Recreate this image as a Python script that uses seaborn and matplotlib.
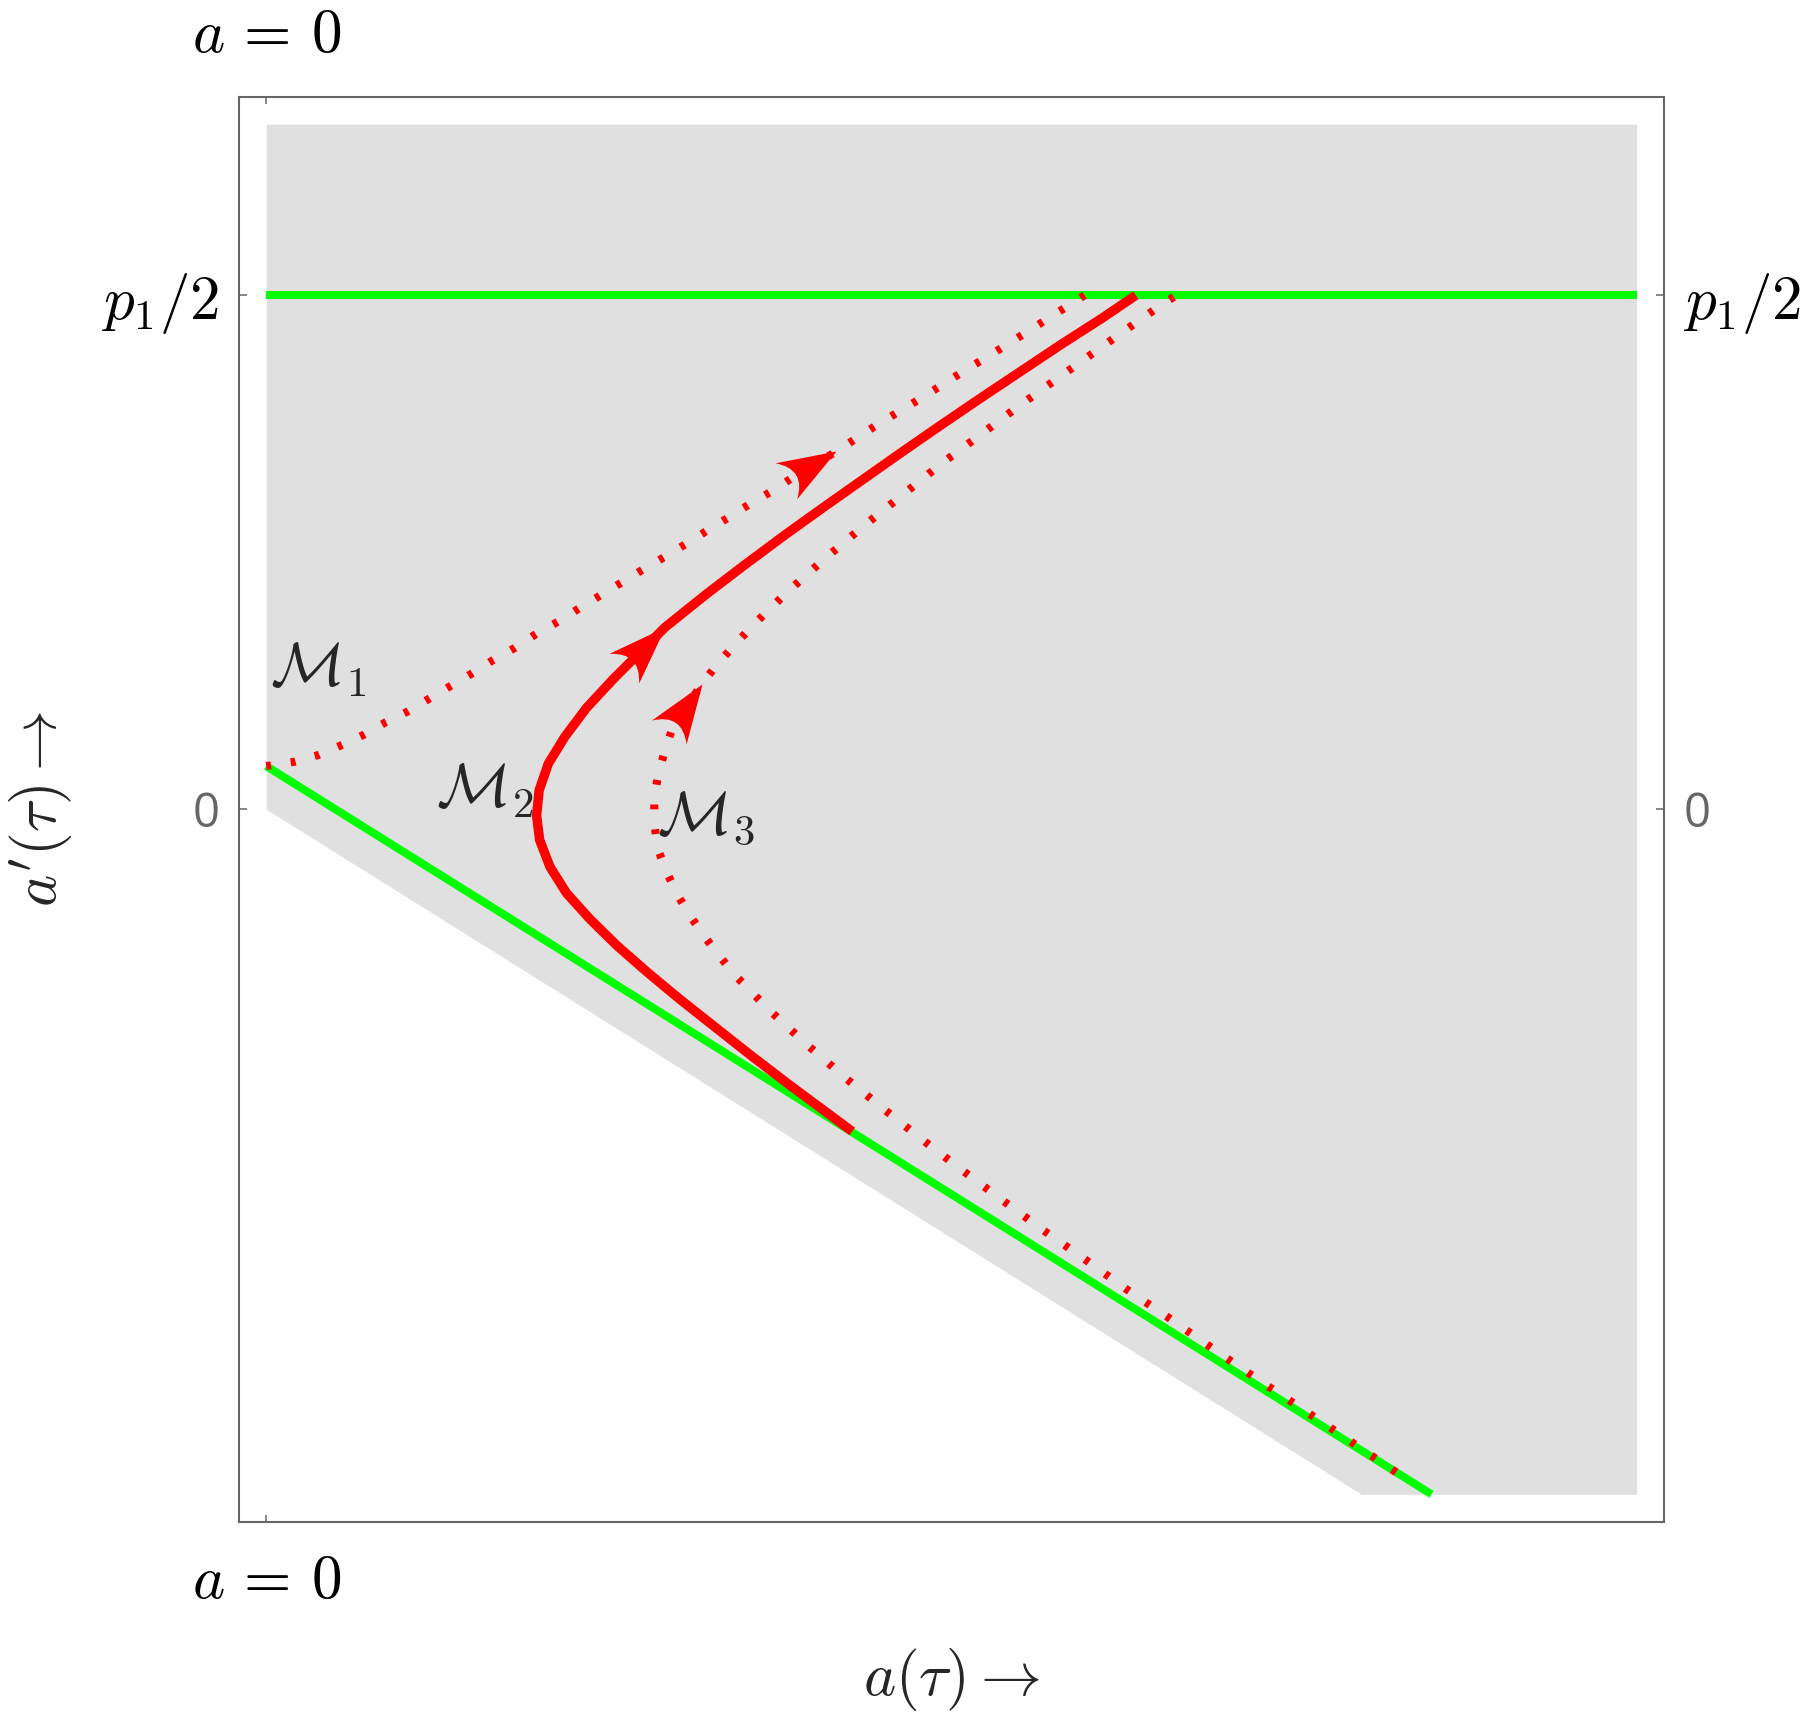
import numpy as np
import matplotlib
matplotlib.use("Agg")
import matplotlib.pyplot as plt
from matplotlib.markers import MarkerStyle
from matplotlib.path import Path
from matplotlib.transforms import Affine2D
import seaborn as sns

# units: a'(tau) axis scaled so that p1/2 = 1, same scale on a(tau)
shade_x = [0.0, 2.131, 2.666]
shade_lower = [0.0, -1.333, -1.333]
shade_upper = [1.333, 1.333, 1.333]

green_top_x = [0.0, 2.666]
green_top_y = [1.0, 1.0]
green_diag_x = [0.0, 2.267]
green_diag_y = [0.084, -1.333]

m1_x = [0.0, 0.053, 0.100, 0.145, 0.190, 0.232, 0.275, 0.317, 0.359, 0.400,
        0.441, 0.484, 0.525, 0.568, 0.609, 0.650, 0.693, 0.734, 0.777, 0.818,
        0.859, 0.900, 0.941, 0.986, 1.025, 1.109, 1.190, 1.273, 1.355, 1.438,
        1.520, 1.592]
m1_y = [0.084, 0.092, 0.105, 0.124, 0.145, 0.169, 0.190, 0.215, 0.240, 0.264,
        0.290, 0.314, 0.341, 0.365, 0.391, 0.416, 0.442, 0.467, 0.492, 0.517,
        0.543, 0.568, 0.594, 0.620, 0.646, 0.696, 0.749, 0.799, 0.851, 0.902,
        0.954, 1.0]

m2_x = [1.140, 1.078, 1.020, 0.948, 0.877, 0.805, 0.740, 0.682, 0.630, 0.584,
        0.552, 0.532, 0.526, 0.531, 0.549, 0.581, 0.623, 0.675, 0.714, 0.776,
        0.857, 0.929, 1.007, 1.078, 1.156, 1.234, 1.315, 1.393, 1.468, 1.546,
        1.624, 1.692]
m2_y = [-0.627, -0.581, -0.538, -0.483, -0.427, -0.370, -0.316, -0.265, -0.214, -0.163,
        -0.112, -0.060, -0.012, 0.037, 0.089, 0.141, 0.197, 0.253, 0.292, 0.354,
        0.419, 0.474, 0.532, 0.583, 0.638, 0.693, 0.749, 0.802, 0.852, 0.904,
        0.954, 1.0]

m3_x = [2.198, 2.155, 2.074, 1.993, 1.912, 1.832, 1.752, 1.672, 1.593, 1.513,
        1.435, 1.356, 1.279, 1.202, 1.127, 1.053, 0.982, 0.912, 0.882, 0.852,
        0.825, 0.799, 0.779, 0.761, 0.755, 0.755, 0.763, 0.776, 0.792, 0.848,
        0.878, 0.943, 1.013, 1.086, 1.161, 1.236, 1.312, 1.390, 1.469, 1.587,
        1.667, 1.747, 1.771]
m3_y = [-1.290, -1.261, -1.206, -1.152, -1.098, -1.043, -0.987, -0.933, -0.876, -0.820,
        -0.763, -0.704, -0.645, -0.584, -0.523, -0.459, -0.394, -0.323, -0.286, -0.247,
        -0.208, -0.165, -0.122, -0.075, -0.026, 0.022, 0.070, 0.115, 0.163, 0.244,
        0.283, 0.354, 0.422, 0.487, 0.550, 0.610, 0.671, 0.729, 0.788, 0.872,
        0.929, 0.985, 1.0]

# index of the point where each arrowhead tip sits
arrow_tips = {"m1": 25, "m2": 19, "m3": 29}

RED = "#ff0000"
GREEN = "#00ff00"
FRAME = "#666666"

sns.set_style("white")
plt.rcParams["font.family"] = ["Open Sans", "DejaVu Sans"]
plt.rcParams["mathtext.fontset"] = "cm"

fig = plt.figure(figsize=(18, 17.21), dpi=100)
ax = fig.add_axes([0.13267, 0.1158, 0.79178, 0.82801])

pad_x = 0.02 * shade_x[-1]
pad_y = 0.02 * (shade_upper[0] - shade_lower[-1])
ax.set_xlim(-pad_x, shade_x[-1] + pad_x)
ax.set_ylim(shade_lower[-1] - pad_y, shade_upper[0] + pad_y)

ax.fill_between(shade_x, shade_lower, shade_upper, color="#e0e0e0", linewidth=0, zorder=1)

green_kw = dict(color=GREEN, linewidth=5.8, solid_capstyle="butt", zorder=2)
sns.lineplot(x=green_top_x, y=green_top_y, ax=ax, sort=False, estimator=None, **green_kw)
sns.lineplot(x=green_diag_x, y=green_diag_y, ax=ax, sort=False, estimator=None, **green_kw)

dot_kw = dict(color=RED, linewidth=5.8, linestyle=(0, (0.6, 2.48)),
              dash_capstyle="butt", zorder=3)
sns.lineplot(x=m1_x, y=m1_y, ax=ax, sort=False, estimator=None, **dot_kw)
sns.lineplot(x=m3_x, y=m3_y, ax=ax, sort=False, estimator=None, **dot_kw)
sns.lineplot(x=m2_x, y=m2_y, ax=ax, sort=False, estimator=None, color=RED,
             linewidth=6.8, solid_capstyle="butt", solid_joinstyle="round", zorder=3)

# arrowhead with a concave back, tip at the origin
head = Path([(0, 0), (-1, 0.36), (-0.6, 0), (-1, -0.36), (0, 0)],
            [Path.MOVETO, Path.LINETO, Path.CURVE3, Path.CURVE3, Path.CLOSEPOLY])


def draw_arrow(xs, ys, i):
    p0 = ax.transData.transform((xs[i - 1], ys[i - 1]))
    p1 = ax.transData.transform((xs[i], ys[i]))
    ang = np.arctan2(p1[1] - p0[1], p1[0] - p0[0])
    mk = MarkerStyle(head, transform=Affine2D().rotate(ang))
    ax.plot([xs[i]], [ys[i]], linestyle="none", marker=mk, markersize=84,
            color=RED, markeredgewidth=0, zorder=4)


draw_arrow(m1_x, m1_y, arrow_tips["m1"])
draw_arrow(m2_x, m2_y, arrow_tips["m2"])
draw_arrow(m3_x, m3_y, arrow_tips["m3"])

ax.text(0.008, 0.238, r"$\mathcal{M}_1$", fontsize=44, ha="left", va="baseline", zorder=5)
ax.text(0.330, 0.003, r"$\mathcal{M}_2$", fontsize=44, ha="left", va="baseline", zorder=5)
ax.text(0.760, -0.049, r"$\mathcal{M}_3$", fontsize=44, ha="left", va="baseline", zorder=5)

# ticks
ax.set_xticks([0])
ax.set_xticklabels([r"$a\,=\,0$"])
ax.set_yticks([0, 1])
ax.set_yticklabels(["0", r"$p_1/2$"])
ax.tick_params(axis="x", bottom=True, top=True, labelbottom=True, labeltop=True,
               direction="in", length=5, width=1.1, color=FRAME, pad=22,
               labelsize=44, labelcolor="black")
ax.tick_params(axis="y", left=True, right=True, labelleft=True, labelright=True,
               direction="in", length=5.8, width=1.1, color=FRAME, pad=14,
               labelsize=44, labelcolor="black")
ytk = ax.yaxis.get_major_ticks()
for lab in (ytk[0].label1, ytk[0].label2):
    lab.set_color(FRAME)
    lab.set_fontsize(34)

for sp in ax.spines.values():
    sp.set_visible(True)
    sp.set_color(FRAME)
    sp.set_linewidth(1.5)

ax.set_xlabel(r"$a(\tau)\rightarrow$", fontsize=44)
ax.set_ylabel(r"$a'(\tau)\rightarrow$", fontsize=44)
ax.xaxis.set_label_coords(0.5, -0.111)
ax.xaxis.label.set_va("center")
ax.yaxis.set_label_coords(-0.1388, 0.5)
ax.yaxis.label.set_va("center")

fig.savefig("out.png", dpi=100)
